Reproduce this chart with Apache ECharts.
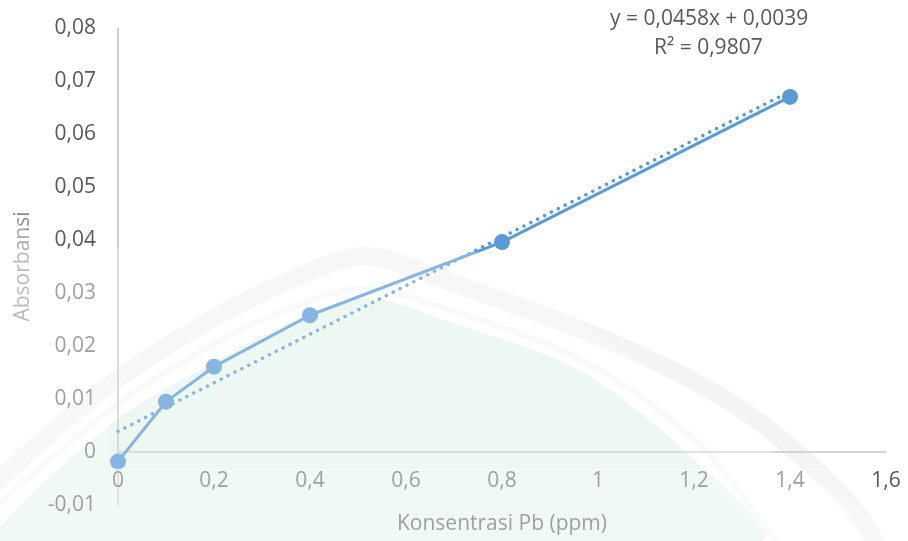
<!DOCTYPE html>
<html>
<head>
<meta charset="utf-8">
<script src="https://cdn.jsdelivr.net/npm/echarts@6/dist/echarts.min.js"></script>
<style>
  html, body { margin: 0; padding: 0; background: #ffffff; }
  #chart { width: 908px; height: 541px; }
</style>
</head>
<body>
<div id="chart"></div>
<script>
// Calibration data: Pb concentration (ppm) vs absorbance
const concentration = [0, 0.1, 0.2, 0.4, 0.8, 1.4];
const absorbance = [-0.0018, 0.0095, 0.0161, 0.0258, 0.0396, 0.0670];

// Linear trendline reported on the chart
const slope = 0.0458;
const intercept = 0.0039;
const trendRange = [0, 1.4];
const equationText = 'y = 0,0458x + 0,0039';
const r2Text = 'R² = 0,9807';

const xTitle = 'Konsentrasi Pb (ppm)';
const yTitle = 'Absorbansi';

const FONT = '"Open Sans", "Noto Sans", sans-serif';
const BLUE = '#5b9bd5';
const TEXT = '#595959';

const points = concentration.map((x, i) => [x, absorbance[i]]);
const trend = trendRange.map(x => [x, slope * x + intercept]);

const fmt = v => String(+v.toFixed(3)).replace('.', ',');

const chart = echarts.init(document.getElementById('chart'), null, { renderer: 'canvas' });

// the y range spans -0.01..0.08, so the x axis sits one interval above the grid bottom
const Y_MIN = -0.01, Y_MAX = 0.08;
const GRID_TOP = 28, GRID_BOTTOM = 36, H = 541;
const plotH = H - GRID_TOP - GRID_BOTTOM;
const zeroOffset = -plotH * (0 - Y_MIN) / (Y_MAX - Y_MIN);

chart.setOption({
  animation: false,
  backgroundColor: '#ffffff',
  grid: { left: 118, right: 22, top: GRID_TOP, bottom: GRID_BOTTOM, containLabel: false, outerBoundsMode: 'none' },
  xAxis: {
    type: 'value',
    min: 0, max: 1.6, interval: 0.2,
    name: xTitle,
    nameLocation: 'middle',
    nameGap: 62,
    offset: zeroOffset,
    nameTextStyle: { fontFamily: FONT, fontSize: 21, color: TEXT },
    axisLine: { onZero: false, lineStyle: { color: '#c8c8c8', width: 1.5 } },
    axisTick: { show: false },
    splitLine: { show: false },
    axisLabel: { fontFamily: FONT, fontSize: 21, color: TEXT, margin: 19, formatter: fmt }
  },
  yAxis: {
    type: 'value',
    min: Y_MIN, max: Y_MAX, interval: 0.01,
    name: yTitle,
    nameLocation: 'middle',
    nameGap: 84,
    nameTextStyle: { fontFamily: FONT, fontSize: 21, color: '#8c8c8c' },
    axisLine: { show: true, onZero: false, lineStyle: { color: '#c0c0c0', width: 1.5 } },
    axisTick: { show: false },
    splitLine: { show: false },
    axisLabel: { fontFamily: FONT, fontSize: 21, color: TEXT, margin: 22, formatter: fmt }
  },
  series: [
    {
      name: 'Absorbansi',
      type: 'line',
      data: points,
      symbol: 'circle',
      symbolSize: 16,
      itemStyle: { color: BLUE },
      lineStyle: { color: BLUE, width: 3 },
      z: 3
    },
    {
      name: 'Linear',
      type: 'line',
      data: trend,
      symbol: 'none',
      lineStyle: { color: BLUE, width: 3.5, type: [0.01, 7.7], cap: 'round' },
      z: 4
    }
  ],
  graphic: [
    {
      type: 'text',
      left: 610, top: 9, z: 10,
      style: { text: equationText, fontFamily: FONT, fontSize: 21, fill: TEXT }
    },
    {
      type: 'text',
      left: 654, top: 38, z: 10,
      style: { text: r2Text, fontFamily: FONT, fontSize: 21, fill: TEXT }
    },
    // faint seal behind the plot
    {
      type: 'polygon', z: 0, silent: true,
      shape: {
        points: [[0, 526], [116, 420], [200, 370], [300, 318], [367, 298], [450, 322],
                 [582, 372], [698, 463], [760, 541], [0, 541]],
        smooth: 0.3
      },
      style: { fill: 'rgba(200,232,212,0.4)' }
    },
    {
      type: 'polyline', z: 0, silent: true,
      shape: {
        points: [[-10, 488], [100, 392], [200, 326], [300, 276], [367, 256], [450, 282],
                 [582, 330], [680, 374], [757, 420], [844, 497], [880, 548]],
        smooth: 0.3
      },
      style: { stroke: 'rgba(0,0,0,0.045)', lineWidth: 18, fill: null }
    },
    {
      type: 'polyline', z: 0, silent: true,
      shape: {
        points: [[-10, 512], [110, 410], [200, 352], [300, 304], [367, 288], [450, 310],
                 [582, 360], [700, 445], [780, 548]],
        smooth: 0.3
      },
      style: { stroke: 'rgba(0,0,0,0.03)', lineWidth: 6, fill: null }
    },
    // light haze over the lower part of the page
    {
      type: 'polygon', z: 100, silent: true,
      shape: { points: [[0, 205], [45, 248], [470, 248], [905, 541], [0, 541]] },
      style: { fill: 'rgba(255,255,255,0.26)' }
    },
    {
      type: 'polygon', z: 100, silent: true,
      shape: { points: [[0, 250], [108, 250], [108, 468], [855, 468], [900, 541], [0, 541]] },
      style: { fill: 'rgba(255,255,255,0.22)' }
    }
  ]
});
</script>
</body>
</html>
